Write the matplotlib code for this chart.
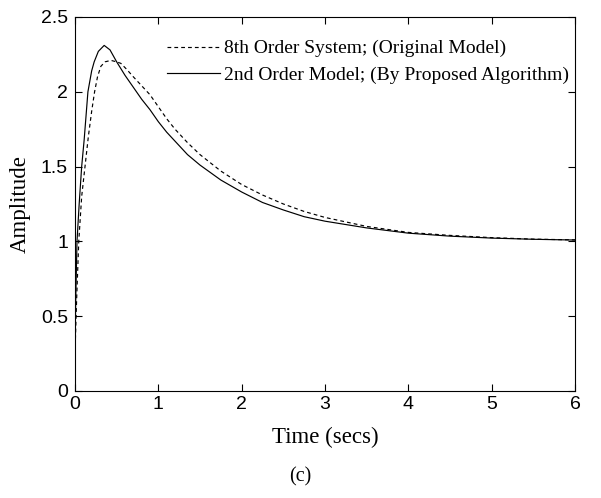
import numpy as np
from matplotlib import pyplot as plt

# step responses
t_orig = [0, 0.005, 0.02, 0.045, 0.08, 0.12, 0.16, 0.2, 0.235, 0.27, 0.31, 0.36, 0.43, 0.5, 0.55,
          0.62, 0.7, 0.8, 0.9, 1.0, 1.1, 1.2, 1.35, 1.5, 1.75, 2.0, 2.25, 2.5, 2.75, 3.0, 3.5,
          4.0, 4.5, 5.0, 5.5, 6.0]
y_orig = [0.30, 0.35, 0.62, 1.0, 1.3, 1.5, 1.7, 1.87, 2.0, 2.1, 2.17, 2.2, 2.21, 2.2, 2.19,
          2.15, 2.1, 2.04, 1.98, 1.9, 1.82, 1.75, 1.66, 1.58, 1.47, 1.38, 1.31, 1.25, 1.2, 1.16, 1.1,
          1.06, 1.04, 1.025, 1.015, 1.01]

t_red = [0, 0.004, 0.01, 0.024, 0.05, 0.08, 0.11, 0.155, 0.2, 0.23, 0.28, 0.35, 0.42, 0.5,
         0.6, 0.7, 0.8, 0.9, 1.0, 1.1, 1.2, 1.35, 1.5, 1.75, 2.0, 2.25, 2.5, 2.75, 3.0, 3.5,
         4.0, 4.5, 5.0, 5.5, 6.0]
y_red = [0.33, 0.45, 0.65, 1.0, 1.25, 1.5, 1.68, 2.0, 2.14, 2.2, 2.27, 2.31, 2.28, 2.2,
         2.11, 2.03, 1.95, 1.88, 1.8, 1.73, 1.67, 1.58, 1.51, 1.41, 1.33, 1.26, 1.21, 1.165, 1.135, 1.09,
         1.055, 1.035, 1.022, 1.014, 1.009]

xticks = [0, 1, 2, 3, 4, 5, 6]
yticks = [0, 0.5, 1, 1.5, 2, 2.5]
ytick_labels = ['0', '0.5', '1', '1.5', '2', '2.5']

serif = 'Liberation Serif'
sans = 'Liberation Sans'

fig = plt.figure(figsize=(6.01, 4.98), dpi=100)
ax = fig.add_axes([0.1248, 0.2149, 0.832, 0.751])

ax.plot(t_orig, y_orig, color='black', lw=0.85, dashes=(3.2, 2.6),
        label='8th Order System; (Original Model)')
ax.plot(t_red, y_red, color='black', lw=0.85,
        label='2nd Order Model; (By Proposed Algorithm)')

ax.set_xlim(0, 6)
ax.set_ylim(0, 2.5)
ax.set_xticks(xticks)
ax.set_yticks(yticks)
ax.set_xticklabels([str(v) for v in xticks], fontfamily=sans, fontsize=14)
ax.set_yticklabels(ytick_labels, fontfamily=sans, fontsize=14)
ax.tick_params(direction='in', top=True, right=True, length=5, width=0.8)
ax.tick_params(axis='x', pad=3.5)
ax.tick_params(axis='y', pad=5)
for s in ax.spines.values():
    s.set_linewidth(0.8)

ax.set_xlabel('Time (secs)', fontfamily=serif, fontsize=16.5, labelpad=10)
ax.set_ylabel('Amplitude', fontfamily=serif, fontsize=16.5, labelpad=7)

ax.legend(loc='upper left', bbox_to_anchor=(0.164, 0.965), frameon=False,
          prop={'family': serif, 'size': 14}, handlelength=2.75, handletextpad=0.2,
          labelspacing=0.45, borderpad=0)

fig.text(0.5, 0.042, '(c)', ha='center', va='center', fontfamily=serif, fontsize=14.5)

plt.savefig('out.png', dpi=100)
plt.close()
